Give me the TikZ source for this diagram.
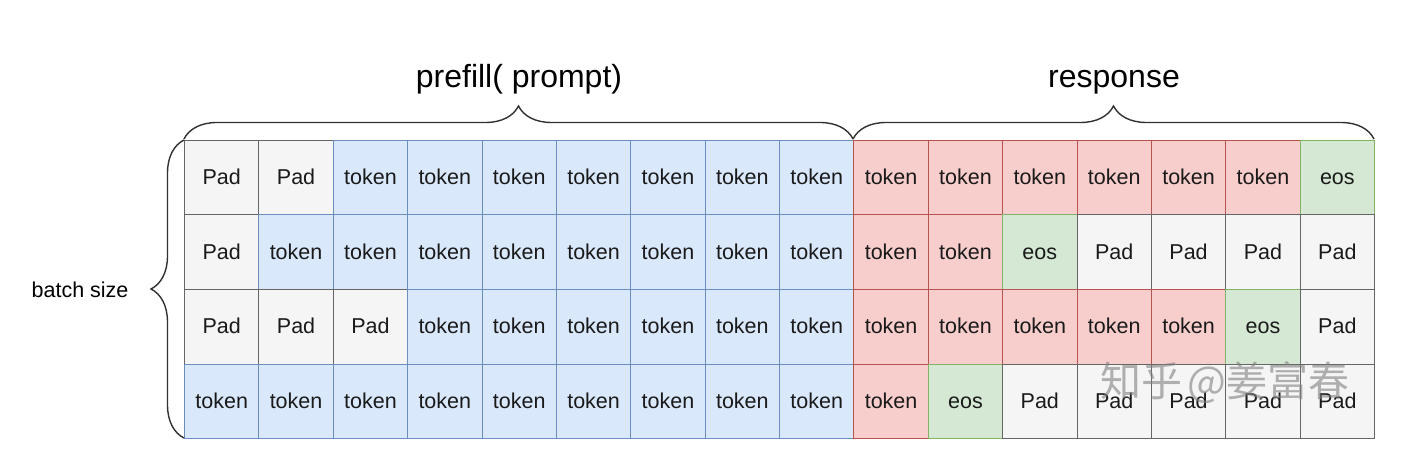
\documentclass[tikz,border=0pt]{standalone}
\usepackage{fontspec}
\setmainfont{Liberation Sans}
\newfontfamily\cjkfont{Noto Sans CJK SC}
\usetikzlibrary{decorations.pathreplacing}
\definecolor{padfill}{HTML}{F5F5F5}
\definecolor{paddraw}{HTML}{666666}
\definecolor{bluefill}{HTML}{DAE8FC}
\definecolor{bluedraw}{HTML}{6C8EBF}
\definecolor{redfill}{HTML}{F8CECC}
\definecolor{reddraw}{HTML}{B85450}
\definecolor{greenfill}{HTML}{D5E8D4}
\definecolor{greendraw}{HTML}{82B366}
\definecolor{ink}{HTML}{1A1A1A}
\begin{document}
\begin{tikzpicture}[x=1pt,y=-1pt,
  cell/.style={draw, anchor=north west, inner sep=0pt, line width=1pt,
    minimum width=74.375pt, minimum height=74.5pt,
    text height=15pt, text depth=1pt,
    font=\fontsize{21.5}{24}\selectfont, text=ink},
  cellP/.style={cell, fill=padfill, draw=paddraw, node contents={Pad}},
  cellB/.style={cell, fill=bluefill, draw=bluedraw, node contents={token}},
  cellR/.style={cell, fill=redfill, draw=reddraw, node contents={token}},
  cellG/.style={cell, fill=greenfill, draw=greendraw, node contents={eos}},
  bracestyle/.style={draw=ink!90, line width=1.4pt,
    decorate, decoration={brace, amplitude=33pt}},
  title/.style={font=\fontsize{32}{36}\selectfont, text=black, anchor=base}]
\useasboundingbox[fill=white] (0,0) rectangle (1412,462);
\foreach \rowlist [count=\r from 0] in {
  {P,P,B,B,B,B,B,B,B,R,R,R,R,R,R,G},
  {P,B,B,B,B,B,B,B,B,R,R,G,P,P,P,P},
  {P,P,P,B,B,B,B,B,B,R,R,R,R,R,G,P},
  {B,B,B,B,B,B,B,B,B,R,G,P,P,P,P,P}} {
  \foreach \t [count=\c from 0] in \rowlist {
    \node[cell\t, name=c-\r-\c, at={({184+\c*74.375},{140+\r*74.5})}];
  }
}
% braces
\coordinate (pa) at (184,139);
\coordinate (pb) at (853,139);
\coordinate (rb) at (1374,139);
\coordinate (ba) at (184,438);
\coordinate (bt) at (184,140);
\draw[bracestyle] (pa) -- (pb);
\draw[bracestyle] (pb) -- (rb);
\draw[bracestyle] (ba) -- (bt);
\node[title] (prefill) at (519,88) {prefill( prompt)};
\node[title] (response) at (1114,88) {response};
\node[font=\fontsize{21.5}{24}\selectfont, text=black, anchor=base east] (batch) at (132,297) {batch size};
% watermark
\node[font=\cjkfont\fontsize{41}{44}\selectfont, text=gray, opacity=0.6] (wm) at (1225,383) {知乎\hspace{5pt}@姜富春};
\end{tikzpicture}
\end{document}
